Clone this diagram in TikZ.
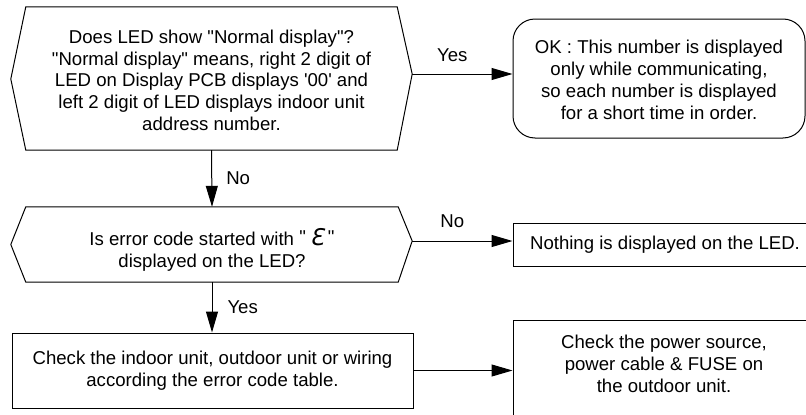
\documentclass[tikz,border=0pt]{standalone}
\usepackage{fontspec}
\setmainfont{Liberation Sans}
\newfontfamily\efont{DejaVu Sans}
\usetikzlibrary{arrows.meta,calc}
\newcommand{\qd}{\textquotedbl}
\begin{document}
\begin{tikzpicture}[x=1pt,y=-1pt,
  every node/.style={font=\fontsize{18.6}{21.8}\selectfont},
  body/.style={inner sep=0pt, align=center},
  box/.style={draw, line width=1pt, inner sep=0pt, align=center},
  hexline/.style={draw, line width=1pt, line join=miter},
  arr/.style={line width=1pt, -{Triangle[length=21pt,width=12pt]}},
  lbl/.style={inner sep=0pt},
]
\useasboundingbox (0,0) rectangle (806,415);
\clip (0,0) rectangle (806,415);

% decision 1
\node[body, minimum width=371pt, minimum height=143pt] (q1) at (211.5,78.5)
  {\rule{0pt}{17pt}Does LED show \qd Normal display\qd ?\\
   \qd Normal display\qd\ means, right 2 digit of\\
   LED on Display PCB displays \textquotesingle 00\textquotesingle\ and\\
   left 2 digit of LED displays indoor unit\\
   address number.};
\coordinate (q1l) at ($(q1.west)+(-15,0.5)$);
\coordinate (q1r) at ($(q1.east)+(15,-4.5)$);
\draw[hexline] (q1.north west) -- (q1.north east) -- (q1r) -- (q1.south east)
  -- (q1.south west) -- (q1l) -- cycle;

% OK box
\node[box, rounded corners=22pt, minimum width=292pt, minimum height=119pt] (ok) at (659,78.5)
  {\rule{0pt}{16pt}OK : This number is displayed\\
   only while communicating,\\
   so each number is displayed\\
   for a short time in order.};

% decision 2
\node[body, minimum width=372pt, minimum height=75pt] (q2) at (212,244.5)
  {\rule{0pt}{28pt}Is error code started with \raisebox{2pt}{\qd}\kern4pt{\efont\itshape\fontsize{23}{20}\selectfont\char"0190}\kern4pt\raisebox{2pt}{\qd}\\
   displayed on the LED?};
\coordinate (q2l) at ($(q2.west)+(-15,0)$);
\coordinate (q2r) at ($(q2.east)+(14,-3.5)$);
\draw[hexline] (q2.north west) -- (q2.north east) -- (q2r) -- (q2.south east)
  -- (q2.south west) -- (q2l) -- cycle;

% nothing box
\node[box, minimum width=304pt, minimum height=43pt] (nothing) at (665,244.5)
  {Nothing is displayed on the LED.};

% check box
\node[box, minimum width=401pt, minimum height=75pt] (chk) at (212.5,370.5)
  {Check the indoor unit, outdoor unit or wiring\\
   according the error code table.};

% power box
\node[box, minimum width=302pt, minimum height=100pt] (pw) at (664,370)
  {Check the power source,\\
   power cable \& FUSE on\\
   the outdoor unit.\rule[-13pt]{0pt}{0pt}};

% connectors
\draw[arr] (q1r) -- node[lbl, pos=0.4, above=12pt] {Yes} (q1r -| ok.west);
\draw[arr] (q1.south) -- node[lbl, midway, right=14pt] {No} (q2.north);
\draw[arr] (q2r) -- node[lbl, pos=0.4, above=13pt] {No} (q2r -| nothing.west);
\draw[arr] (q2.south) -- node[lbl, midway, right=15pt] {Yes} (q2.south |- chk.north);
\draw[arr] (chk.east) -- (chk.east -| pw.west);
\end{tikzpicture}
\end{document}
